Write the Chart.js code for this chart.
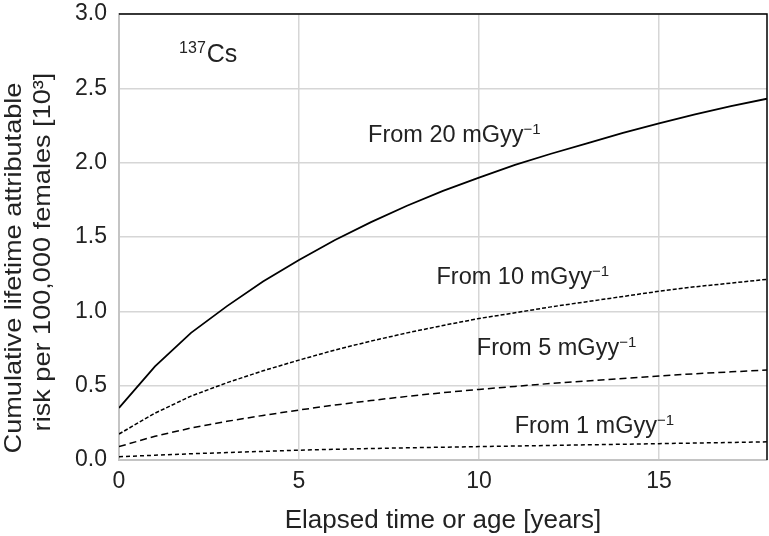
<!DOCTYPE html>
<html>
<head>
<meta charset="utf-8">
<script src="https://cdn.jsdelivr.net/npm/chart.js@4"></script>
<style>
  html, body { margin: 0; padding: 0; background: #fff; }
</style>
</head>
<body>
<canvas id="riskChart" width="769" height="536"></canvas>
<script>
// elapsed time in years
const years = [0,1,2,3,4,5,6,7,8,9,10,11,12,13,14,15,16,17,18];

// cumulative LAR per 100,000 females [10^3], 137Cs
const from20 = [0.35,0.63,0.855,1.035,1.20,1.345,1.48,1.60,1.71,1.81,1.90,1.985,2.06,2.13,2.20,2.265,2.325,2.38,2.43];
const from10 = [0.175,0.315,0.43,0.52,0.60,0.672,0.74,0.80,0.855,0.905,0.952,0.99,1.03,1.065,1.10,1.135,1.165,1.19,1.215];
const from5  = [0.09,0.16,0.215,0.26,0.30,0.336,0.37,0.40,0.428,0.453,0.475,0.495,0.515,0.532,0.549,0.565,0.58,0.593,0.605];
const from1  = [0.022,0.032,0.042,0.05,0.058,0.066,0.072,0.077,0.082,0.086,0.09,0.094,0.098,0.102,0.106,0.11,0.114,0.118,0.122];

const seriesNames = ['From 20 mGyy', 'From 10 mGyy', 'From 5 mGyy', 'From 1 mGyy'];
const yTitle = ['Cumulative lifetime attributable', 'risk per 100,000 females [10\u00b3]'];
const xTitle = 'Elapsed time or age [years]';

const FONT = '"Liberation Sans", Arial, sans-serif';
const INK = '#222';

// in-plot labels (data coordinates, left/baseline)
const notes = [
  { pre: '', main: seriesNames[0], sup: '\u22121', x: 6.92, y: 2.14 },
  { pre: '', main: seriesNames[1], sup: '\u22121', x: 8.82, y: 1.182 },
  { pre: '', main: seriesNames[2], sup: '\u22121', x: 9.94, y: 0.706 },
  { pre: '', main: seriesNames[3], sup: '\u22121', x: 10.99, y: 0.179 },
  { pre: '137', main: 'Cs', sup: '', x: 1.67, y: 2.68 }
];

function toPoints(vals){
  return vals.map((v, i) => ({x: years[i], y: v}));
}

const frameAndNotes = {
  id: 'frameAndNotes',
  afterDatasetsDraw(chart){
    const {ctx, chartArea: a, scales} = chart;
    ctx.save();
    ctx.strokeStyle = '#000';
    ctx.lineWidth = 1.5;
    ctx.beginPath();
    ctx.moveTo(a.left, a.top);
    ctx.lineTo(a.right, a.top);
    ctx.lineTo(a.right, a.bottom);
    ctx.stroke();

    ctx.fillStyle = INK;
    ctx.textBaseline = 'alphabetic';
    ctx.textAlign = 'left';
    notes.forEach(n => {
      let px = scales.x.getPixelForValue(n.x);
      const py = scales.y.getPixelForValue(n.y);
      if (n.pre){
        ctx.font = '16px ' + FONT;
        ctx.fillText(n.pre, px, py - 9);
        px += ctx.measureText(n.pre).width + 1;
        ctx.font = '25px ' + FONT;
      } else {
        ctx.font = '23.5px ' + FONT;
      }
      ctx.fillText(n.main, px, py);
      px += ctx.measureText(n.main).width;
      if (n.sup){
        ctx.font = '15px ' + FONT;
        ctx.fillText(n.sup, px, py - 8);
      }
    });

    // rotated y title, two centred lines
    ctx.font = '24px ' + FONT;
    ctx.textAlign = 'center';
    const lines = [{ t: yTitle[0], bx: 21, cy: 268 }, { t: yTitle[1], bx: 50, cy: 252 }];
    lines.forEach(l => {
      ctx.save();
      ctx.translate(l.bx, l.cy);
      ctx.rotate(-Math.PI / 2);
      ctx.scale(1.13, 1);
      ctx.fillText(l.t, 0, 0);
      ctx.restore();
    });
    ctx.restore();
  }
};

const ctx = document.getElementById('riskChart');

const data = {
  datasets: [
    { label: seriesNames[0], data: toPoints(from20), borderColor: '#000', borderWidth: 1.8, borderDash: [] },
    { label: seriesNames[1], data: toPoints(from10), borderColor: '#000', borderWidth: 1.5, borderDash: [4, 2] },
    { label: seriesNames[2], data: toPoints(from5),  borderColor: '#000', borderWidth: 1.5, borderDash: [7, 4] },
    { label: seriesNames[3], data: toPoints(from1),  borderColor: '#000', borderWidth: 1.5, borderDash: [4, 3] }
  ]
};

const config = {
  type: 'line',
  data: data,
  options: {
    responsive: false,
    animation: false,
    devicePixelRatio: 1,
    layout: { padding: { top: 14, right: 2, left: 0, bottom: 0 } },
    elements: { point: { radius: 0 }, line: { tension: 0, fill: false } },
    plugins: { legend: { display: false }, tooltip: { enabled: false } },
    scales: {
      x: {
        type: 'linear',
        min: 0,
        max: 18,
        afterBuildTicks: s => { s.ticks = s.ticks.filter(t => t.value % 5 === 0); },
        afterFit: s => { s.height = 76; s.paddingLeft = 0; s.paddingRight = 0; },
        ticks: { stepSize: 5, color: INK, padding: 8, font: { family: FONT, size: 23 } },
        grid: { color: '#d6d6d6', lineWidth: 1.5, drawTicks: false },
        border: { color: '#c4c4c4', width: 2 },
        title: { display: true, text: xTitle, color: INK,
                 font: { family: FONT, size: 26 }, padding: { top: 0, bottom: 0 } }
      },
      y: {
        min: 0,
        max: 3,
        afterFit: s => { s.width = 119; s.paddingTop = 0; s.paddingBottom = 0; },
        ticks: { stepSize: 0.5, color: INK, padding: 12, font: { family: FONT, size: 23 },
                 callback: v => v.toFixed(1) },
        grid: { color: '#d6d6d6', lineWidth: 1.5, drawTicks: false },
        border: { color: '#c4c4c4', width: 2 }
      }
    }
  },
  plugins: [frameAndNotes]
};

new Chart(ctx, config);
</script>
</body>
</html>
